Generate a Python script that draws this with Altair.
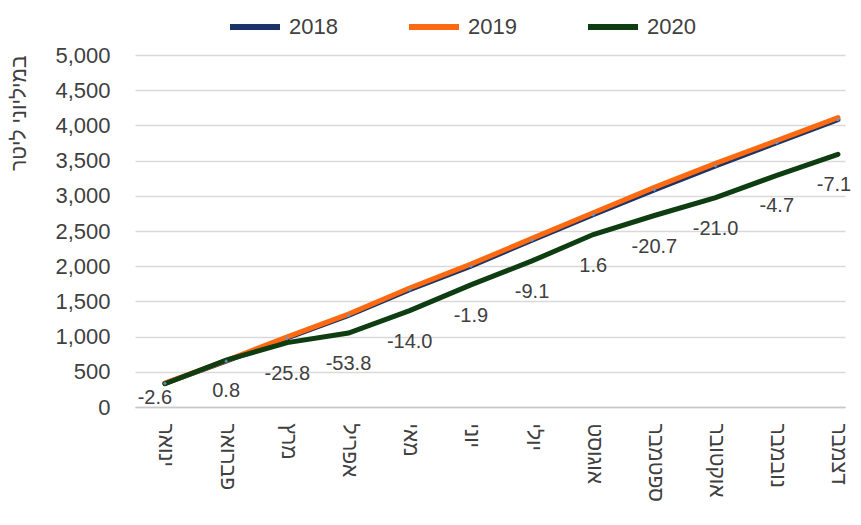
import altair as alt
import pandas as pd

months = ["ינואר", "פברואר", "מרץ", "אפריל", "מאי", "יוני",
          "יולי", "אוגוסט", "ספטמבר", "אוקטובר", "נובמבר", "דצמבר"]
years = ["2018", "2019", "2020"]
v2018 = [335, 650, 980, 1300, 1665, 2000, 2370, 2730, 3085, 3425, 3755, 4080]
v2019 = [340, 660, 995, 1320, 1690, 2030, 2395, 2760, 3120, 3460, 3785, 4110]
v2020 = [330, 665, 915, 1050, 1370, 1735, 2075, 2450, 2720, 2975, 3290, 3590]
pct2020 = [-2.6, 0.8, -25.8, -53.8, -14.0, -1.9, -9.1, 1.6, -20.7, -21.0, -4.7, -7.1]
colors = ["#1B3468", "#FF6A10", "#0F3D12"]

rows = []
for y, vals in zip(years, [v2018, v2019, v2020]):
    for m, v in zip(months, vals):
        rows.append({"month": m, "year": y, "value": v})
df = pd.DataFrame(rows)

lab = pd.DataFrame({"month": months, "value": v2020,
                    "label": [f"{p:.1f}" for p in pct2020],
                    "idx": list(range(len(months)))})
pts = pd.DataFrame({"month": months, "value": v2018})

FONT = "Liberation Sans, DejaVu Sans"
TXT = "#404040"

x = alt.X("month:N", sort=months,
          scale=alt.Scale(type="point", padding=0.302, align=0.81),
          axis=alt.Axis(title=None, labelAngle=90, labelFontSize=21, labelFont=FONT,
                        labelColor=TXT, labelPadding=16, ticks=False, tickSize=0,
                        domainColor="#c8c8c8", domainWidth=1.5, grid=False,
                        labelAlign="left", labelBaseline="middle"))
y = alt.Y("value:Q", scale=alt.Scale(domain=[0, 5000], nice=False),
          axis=alt.Axis(title="במיליוני ליטר", values=list(range(0, 5001, 500)), format=",d",
                        labelFontSize=22, labelFont=FONT, labelColor=TXT,
                        labelPadding=25, ticks=False, tickSize=0, domain=False,
                        gridColor="#d9d9d9", gridWidth=1.5,
                        titleFontSize=21, titleFont=FONT, titleColor=TXT,
                        titleFontWeight="normal", titleAnchor="end", titleX=-106))

lines = alt.Chart(df).mark_line(strokeWidth=5, strokeCap="round").encode(
    x=x, y=y,
    color=alt.Color("year:N", scale=alt.Scale(domain=years, range=colors),
                    legend=alt.Legend(title=None, orient="none", legendX=92, legendY=-56,
                                      direction="horizontal", symbolType="stroke",
                                      symbolSize=2500, symbolStrokeWidth=6,
                                      labelFontSize=22, labelFont=FONT, labelColor=TXT,
                                      labelOffset=6, columnPadding=59))
)

markers = alt.Chart(pts).mark_point(shape="diamond", filled=True, size=14,
                                    color="#5B9BD5", opacity=0.9).encode(x=x, y=y)

text_first = alt.Chart(lab).transform_filter("datum.idx == 0").mark_text(
    dx=-10, dy=14, fontSize=20, font=FONT, color=TXT).encode(x=x, y=y, text="label:N")
text_mid = alt.Chart(lab).transform_filter("datum.idx > 0 && datum.idx < 11").mark_text(
    dy=31, fontSize=20, font=FONT, color=TXT).encode(x=x, y=y, text="label:N")
text_last = alt.Chart(lab).transform_filter("datum.idx == 11").mark_text(
    dx=-4, dy=31, fontSize=20, font=FONT, color=TXT).encode(x=x, y=y, text="label:N")

chart = alt.layer(lines, markers, text_first, text_mid, text_last).properties(
    width=710, height=352,
    autosize=alt.AutoSizeParams(type="none"),
    padding={"left": 127, "top": 47, "right": 8, "bottom": 100},
).configure_view(stroke=None)

chart.save("out.html", embed_options={"renderer": "svg", "actions": False})
